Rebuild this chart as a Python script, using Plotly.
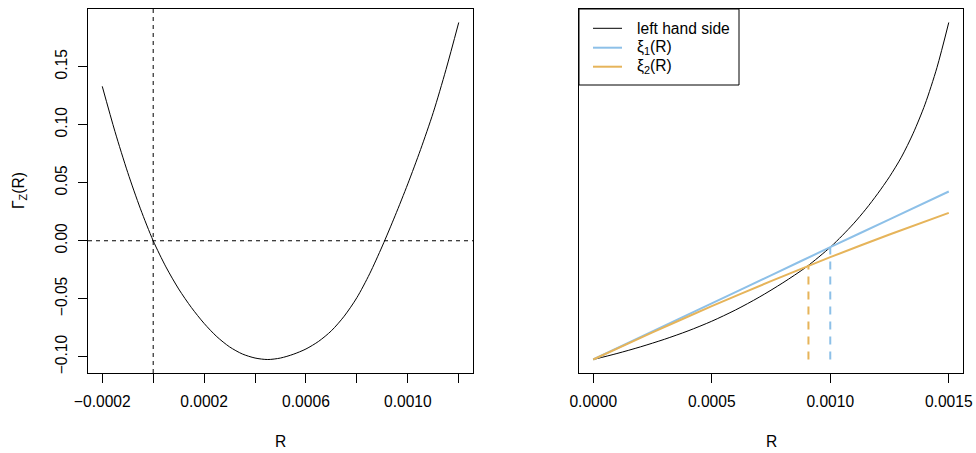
import plotly.graph_objects as go

# ---- Left panel data: Gamma_Z(R) ----
gam_R = [-0.0002, -0.00015, -0.0001, -0.00005, 0.0, 0.00005, 0.0001, 0.00015, 0.0002,
         0.00025, 0.0003, 0.00035, 0.0004, 0.00045, 0.0005, 0.00055, 0.0006, 0.00065,
         0.0007, 0.00075, 0.0008, 0.00085, 0.0009, 0.00095, 0.001, 0.00105, 0.0011,
         0.00115, 0.0012]
gam_val = [0.133, 0.0940, 0.0588, 0.0275, 0.0, -0.0225, -0.0415, -0.0575, -0.0712,
           -0.0826, -0.0914, -0.0975, -0.1010, -0.1023, -0.1010, -0.0978, -0.0932, -0.0866,
           -0.0775, -0.0650, -0.0490, -0.0285, -0.0045, 0.0215, 0.0490, 0.0785, 0.1105,
           0.1475, 0.188]

# ---- Right panel data (y in arbitrary units; no y ticks in the original) ----
lhs_R = [0.0, 0.0001, 0.0002, 0.0003, 0.0004, 0.0005, 0.0006, 0.0007, 0.0008, 0.0009,
         0.001, 0.00105, 0.0011, 0.00115, 0.0012, 0.00125, 0.0013, 0.00135, 0.0014,
         0.00145, 0.0015]
lhs_val = [0.0, 0.0178, 0.0377, 0.0599, 0.0849, 0.1136, 0.1469, 0.1849, 0.2276, 0.2751,
           0.3332, 0.3674, 0.4045, 0.4460, 0.4920, 0.5424, 0.6003, 0.6715, 0.7576,
           0.8659, 1.0]

xi_R = [0.0, 0.00025, 0.0005, 0.00075, 0.001, 0.00125, 0.0015]
xi1_val = [0.0, 0.0833, 0.1666, 0.2499, 0.3332, 0.4160, 0.4985]
xi2_val = [0.0, 0.0804, 0.1582, 0.2326, 0.3036, 0.3709, 0.4350]

root_xi1 = 0.001
root_xi1_val = 0.3332
root_xi2 = 0.000908
root_xi2_val = 0.2777
base_val = 0.0

left_xticks = [-0.0002, 0.0, 0.0002, 0.0004, 0.0006, 0.0008, 0.001, 0.0012]
left_xlabels = ["\u22120.0002", "", "0.0002", "", "0.0006", "", "0.0010", ""]
left_yticks = [-0.10, -0.05, 0.0, 0.05, 0.10, 0.15]
left_ylabels = ["\u22120.10", "\u22120.05", "0.00", "0.05", "0.10", "0.15"]
right_xticks = [0.0, 0.0005, 0.001, 0.0015]
right_xlabels = ["0.0000", "0.0005", "0.0010", "0.0015"]

legend_labels = ["left hand side", "\u03be<sub>1</sub>(R)", "\u03be<sub>2</sub>(R)"]

BLUE = "#8DC0E8"
ORANGE = "#E6B45A"
FONT = "Liberation Sans, Arial, sans-serif"
FS = 15.6
W, H = 976, 453

fig = go.Figure()

# left panel
fig.add_trace(go.Scatter(x=gam_R, y=gam_val, mode="lines",
                         line=dict(color="black", width=1, shape="spline", smoothing=0.8),
                         xaxis="x", yaxis="y", showlegend=False))

# right panel
fig.add_trace(go.Scatter(x=lhs_R, y=lhs_val, mode="lines",
                         line=dict(color="black", width=1, shape="spline", smoothing=0.8),
                         xaxis="x2", yaxis="y2", showlegend=False))
fig.add_trace(go.Scatter(x=xi_R, y=xi1_val, mode="lines",
                         line=dict(color=BLUE, width=2, shape="spline", smoothing=0.8),
                         xaxis="x2", yaxis="y2", showlegend=False))
fig.add_trace(go.Scatter(x=xi_R, y=xi2_val, mode="lines",
                         line=dict(color=ORANGE, width=2, shape="spline", smoothing=0.8),
                         xaxis="x2", yaxis="y2", showlegend=False))
fig.add_trace(go.Scatter(x=[root_xi2, root_xi2], y=[base_val, root_xi2_val], mode="lines",
                         line=dict(color=ORANGE, width=2, dash="8px,7px"),
                         xaxis="x2", yaxis="y2", showlegend=False))
fig.add_trace(go.Scatter(x=[root_xi1, root_xi1], y=[base_val, root_xi1_val], mode="lines",
                         line=dict(color=BLUE, width=2, dash="8px,7px"),
                         xaxis="x2", yaxis="y2", showlegend=False))

# reference dashed lines on left panel (at R = 0 and Gamma = 0)
shapes = [
    dict(type="line", xref="x", yref="y domain", x0=0, x1=0, y0=0, y1=1,
         line=dict(color="black", width=1, dash="4px,4px")),
    dict(type="line", xref="x domain", yref="y", x0=0, x1=1, y0=0, y1=0,
         line=dict(color="black", width=1, dash="4px,4px")),
]


def px_x(p):
    return p / W


def px_y(p):
    return 1 - p / H


# R-style boxed legend in the top-left corner of the right panel
shapes.append(dict(type="rect", xref="paper", yref="paper", x0=px_x(579), x1=px_x(739),
                   y0=px_y(85), y1=px_y(9), line=dict(color="black", width=1),
                   fillcolor="white", layer="above"))
leg_rows = [28.3, 47.7, 66.7]
leg_cols = ["black", BLUE, ORANGE]
leg_w = [1, 2, 2]
annotations = []
for ry, c, lw, lab in zip(leg_rows, leg_cols, leg_w, legend_labels):
    shapes.append(dict(type="line", xref="paper", yref="paper", x0=px_x(593), x1=px_x(622),
                       y0=px_y(ry), y1=px_y(ry), line=dict(color=c, width=lw), layer="above"))
    annotations.append(dict(x=px_x(635), y=px_y(ry), xref="paper", yref="paper", text=lab,
                            showarrow=False, xanchor="left", yanchor="middle",
                            font=dict(family=FONT, size=FS, color="black")))

# axis titles
annotations.append(dict(x=px_x(280.5), y=px_y(441), xref="paper", yref="paper", text="R",
                        showarrow=False, xanchor="center", yanchor="middle",
                        font=dict(family=FONT, size=FS, color="black")))
annotations.append(dict(x=px_x(771), y=px_y(441), xref="paper", yref="paper", text="R",
                        showarrow=False, xanchor="center", yanchor="middle",
                        font=dict(family=FONT, size=FS, color="black")))
annotations.append(dict(x=px_x(20), y=px_y(191), xref="paper", yref="paper",
                        text="\u0393<sub>Z</sub>(R)", showarrow=False, textangle=-90,
                        xanchor="center", yanchor="middle",
                        font=dict(family=FONT, size=FS, color="black")))

axis_common = dict(showgrid=False, zeroline=False, showline=True, mirror=True,
                   linecolor="black", linewidth=1, automargin=False,
                   ticks="outside", ticklen=9, tickcolor="black", tickwidth=1,
                   tickfont=dict(family=FONT, size=FS, color="black"))

ydom = [(H - 373) / H, (H - 9) / H]
fig.update_layout(
    width=W, height=H, margin=dict(l=0, r=0, t=0, b=0, autoexpand=False),
    paper_bgcolor="white", plot_bgcolor="white",
    xaxis=dict(domain=[88 / W, 473 / W], range=[-0.000256, 0.001256], tickmode="array",
               tickvals=left_xticks, ticktext=left_xlabels, ticklabelstandoff=5, **axis_common),
    yaxis=dict(domain=ydom, range=[-0.1139, 0.1996], tickmode="array", tickvals=left_yticks,
               ticktext=left_ylabels, tickangle=-90, ticklabelstandoff=5, **axis_common),
    xaxis2=dict(domain=[579 / W, 963 / W], range=[-0.00006, 0.00156], tickmode="array",
                tickvals=right_xticks, ticktext=right_xlabels, anchor="y2",
                ticklabelstandoff=5, **axis_common),
    yaxis2=dict(domain=ydom, range=[-0.04, 1.04], anchor="x2", showgrid=False, zeroline=False,
                showline=True, mirror=True, linecolor="black", linewidth=1, automargin=False,
                ticks="", showticklabels=False),
    shapes=shapes, annotations=annotations,
)

fig.write_html("out.html")
